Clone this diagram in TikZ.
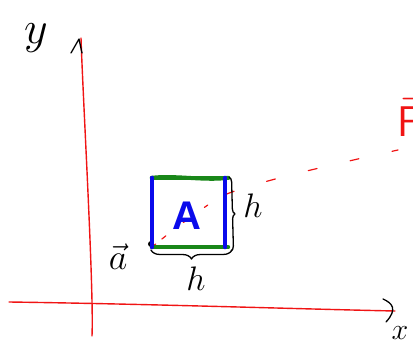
\documentclass[tikz,border=0pt]{standalone}
\usepackage{fix-cm}
\usepackage{fontspec}
\usetikzlibrary{decorations.pathreplacing}
\newfontfamily\lsans{Liberation Sans}
\definecolor{pred}{RGB}{240,20,20}
\definecolor{pgreen}{RGB}{25,135,25}
\definecolor{pblue}{RGB}{10,10,235}
\begin{document}
\begin{tikzpicture}[x=1pt,y=-1pt,
  axisline/.style={pred, line width=1.4pt, line cap=round},
  ink/.style={black, line width=1.3pt, line cap=round, line join=round},
  greenside/.style={pgreen, line width=4pt, line cap=round},
  blueside/.style={pblue, line width=4.2pt, line cap=round},
  lbl/.style={inner sep=0pt, font=\fontsize{34}{34}\selectfont},
  forceline/.style={pred, line width=1.2pt, dash pattern=on 9pt off 34pt, line cap=round}]
\useasboundingbox (0,0) rectangle (413,340);
\clip (0,0) rectangle (413,340);
% axes
\coordinate (xs) at (9,302);
\coordinate (xe) at (395,311);
\coordinate (ys) at (92,336);
\coordinate (ye) at (81,38);
\draw[axisline] (xs) .. controls (150,304) and (300,309) .. (xe);
\draw[axisline] (ys) .. controls (94,290) and (83,100) .. (ye);
\draw[ink] (383,299) .. controls (392,303) and (398,309) .. (386,322);
\draw[ink] (71,53) -- (79,39) -- (82,53);
\node[lbl, font=\fontsize{46}{46}\selectfont] (ylab) at (36,38) {$y$};
\node[lbl, font=\fontsize{30}{30}\selectfont] (xlab) at (400,333) {$x$};
% box
\node[minimum width=76pt, minimum height=69pt, inner sep=0pt] (box) at (190,212.5) {};
\draw[pred, line width=1.2pt, line cap=round, dash pattern=on 5pt off 8pt on 5pt off 22pt on 6pt off 20pt on 4pt off 200pt]
  (box.south west) .. controls (175,228) and (205,206) .. (222,196);
\draw[forceline, dash phase=-4pt] (222,196) .. controls (240,188) and (280,176) .. (398,150);
\fill (151,244) circle (3pt);
\draw[greenside] (box.north west) .. controls (175,175) and (205,181) .. (box.north east);
\draw[greenside] (box.north west) -- (box.north east);
\draw[greenside] (box.south west) -- (box.south east);
\draw[blueside] (box.north west) -- (box.south west);
\draw[blueside] ([xshift=-3pt]box.north east) -- ([xshift=-3pt]box.south east);
\node[pblue, inner sep=0pt, font=\lsans\bfseries\fontsize{40}{40}\selectfont] (A) at (187,216) {A};
% braces
\draw[ink, decorate, decoration={brace, amplitude=5pt}] (229,177) -- (231,251);
\draw[ink, decorate, decoration={brace, amplitude=9pt}] (232,250) -- (151,250);
\node[lbl] (hr) at (253,206) {$h$};
\node[lbl] (hb) at (196,279) {$h$};
\node[lbl, font=\fontsize{36}{36}\selectfont] (alab) at (118,257) {$\vec{a}$};
% force
\node[pred, anchor=south west, inner sep=0pt, font=\fontsize{43}{43}\selectfont] (F) at (397,137) {$\vec{\mathsf{F}}$};
\end{tikzpicture}
\end{document}
